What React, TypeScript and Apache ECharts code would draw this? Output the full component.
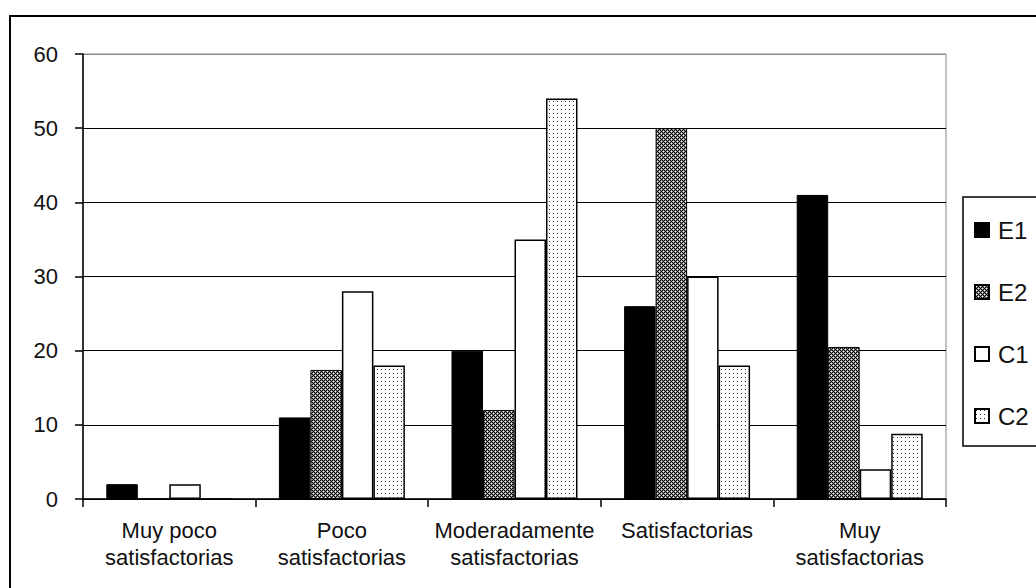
import React, { useEffect, useRef } from "react";
import * as echarts from "echarts";

const categories = [
  "Muy poco\nsatisfactorias",
  "Poco\nsatisfactorias",
  "Moderadamente\nsatisfactorias",
  "Satisfactorias",
  "Muy\nsatisfactorias",
];
const seriesNames = ["E1", "E2", "C1", "C2"];
const valuesE1 = [2, 11, 20, 26, 41];
const valuesE2 = [0, 17.4, 12, 50, 20.5];
const valuesC1 = [2, 28, 35, 30, 4];
const valuesC2 = [0, 18, 54, 18, 8.8];
const yTicks = { min: 0, max: 60, interval: 10 };

const FONT = "'Liberation Sans', Arial, sans-serif";

function makeCrossPattern(): HTMLCanvasElement {
  const c = document.createElement("canvas");
  c.width = 4;
  c.height = 4;
  const ctx = c.getContext("2d")!;
  for (let y = 0; y < 4; y++) {
    for (let x = 0; x < 4; x++) {
      let col = "#000000";
      if ((x + y) % 2 === 1) col = "#8a8a8a";
      if ((x === 1 && y === 1) || (x === 3 && y === 3)) col = "#ffffff";
      ctx.fillStyle = col;
      ctx.fillRect(x, y, 1, 1);
    }
  }
  return c;
}

function makeDotPattern(): HTMLCanvasElement {
  const c = document.createElement("canvas");
  c.width = 4;
  c.height = 4;
  const ctx = c.getContext("2d")!;
  ctx.fillStyle = "#ffffff";
  ctx.fillRect(0, 0, 4, 4);
  ctx.fillStyle = "#333333";
  ctx.fillRect(1, 1, 1, 1);
  return c;
}

export default function App() {
  const ref = useRef<HTMLDivElement>(null);
  useEffect(() => {
    const chart = echarts.init(ref.current!, null, { renderer: "svg" });
    const cross = { image: makeCrossPattern(), repeat: "repeat" };
    const dots = { image: makeDotPattern(), repeat: "repeat" };
    const styles: any[] = [
      { color: "#000000", borderColor: "#000", borderWidth: 1 },
      { color: cross, borderColor: "#000", borderWidth: 1 },
      { color: "#ffffff", borderColor: "#000", borderWidth: 1.5 },
      { color: dots, borderColor: "#000", borderWidth: 1.5 },
    ];
    const data = [valuesE1, valuesE2, valuesC1, valuesC2];
    chart.setOption({
      animation: false,
      backgroundColor: "#ffffff",
      textStyle: { fontFamily: FONT },
      graphic: [
        {
          type: "rect",
          shape: { x: 10, y: 16, width: 1200, height: 800 },
          style: { fill: "none", stroke: "#000", lineWidth: 2 },
          silent: true,
        },
      ],
      grid: {
        left: 83,
        top: 54,
        right: 90,
        bottom: 89,
        show: true,
        borderColor: "#888",
        borderWidth: 1,
        backgroundColor: "transparent",
      },
      legend: {
        data: seriesNames,
        orient: "vertical",
        left: 963,
        top: 197,
        icon: "rect",
        itemWidth: 14,
        itemHeight: 14,
        itemGap: 38,
        padding: [21, 40, 18, 11],
        borderColor: "#000",
        borderWidth: 1.5,
        textStyle: { fontSize: 24, color: "#111", fontFamily: FONT, padding: [0, 0, 0, 4] },
      },
      xAxis: {
        type: "category",
        data: categories,
        axisLine: { lineStyle: { color: "#000", width: 1.5 } },
        axisTick: { show: true, length: 8, lineStyle: { color: "#000", width: 1.5 } },
        axisLabel: {
          fontSize: 22,
          color: "#111",
          fontFamily: FONT,
          lineHeight: 27,
          margin: 18,
          interval: 0,
        },
      },
      yAxis: {
        type: "value",
        min: yTicks.min,
        max: yTicks.max,
        interval: yTicks.interval,
        axisLine: { show: true, lineStyle: { color: "#000", width: 1.5 } },
        axisTick: { show: true, length: 8, lineStyle: { color: "#000", width: 1.5 } },
        axisLabel: { fontSize: 22, color: "#111", fontFamily: FONT, margin: 25 },
        splitLine: {
          show: true,
          lineStyle: {
            color: ["#000", "#000", "#000", "#000", "#000", "#000", "#888"],
            width: 1.2,
          },
        },
      },
      series: seriesNames.map((name, i) => ({
        name,
        type: "bar",
        data: data[i],
        barGap: "0%",
        barCategoryGap: "27%",
        itemStyle: styles[i],
      })),
    });
    return () => chart.dispose();
  }, []);
  return (
    <div
      ref={ref}
      style={{ position: "fixed", left: 0, top: 0, width: 1036, height: 588, background: "#fff" }}
    />
  );
}
